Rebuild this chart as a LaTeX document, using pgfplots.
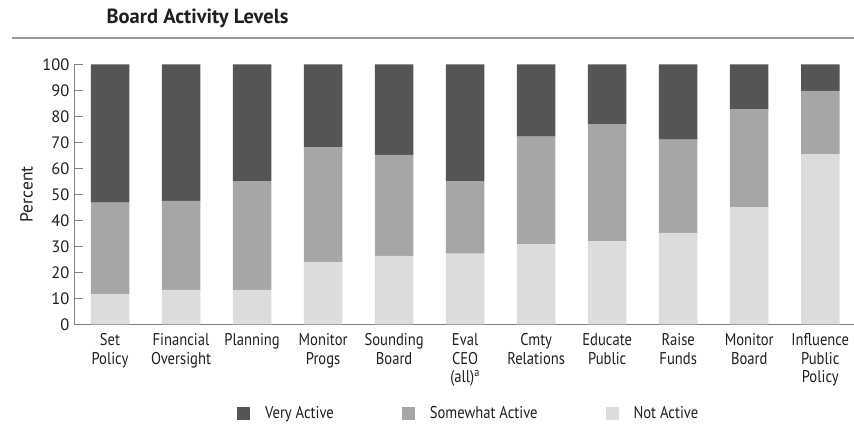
\documentclass[border=0pt]{standalone}
\usepackage{pgfplots}
\pgfplotsset{compat=1.18}
\usepackage{pgfplotstable}
\usepackage{fontspec}
\setmainfont{PT Sans}
\newfontfamily\cond{PT Sans}[FakeStretch=0.86]
\definecolor{vact}{HTML}{555555}
\definecolor{sact}{HTML}{A6A6A6}
\definecolor{nact}{HTML}{DCDCDC}
\definecolor{axgray}{HTML}{808080}
\pgfplotstableread{
x notact some very
0 11.5 35.3 53.2
1 13.2 34.3 52.5
2 13.2 41.9 44.9
3 23.8 44.3 31.9
4 26.3 38.9 34.8
5 27.2 27.9 44.9
6 30.8 41.4 27.8
7 32.0 45.0 23.0
8 35.2 35.8 29.0
9 45.0 37.8 17.2
10 65.4 24.4 10.2
}\datatable
\begin{document}
\begin{tikzpicture}
\useasboundingbox (0,0) rectangle (854pt,427pt);
\node[anchor=west,font=\fontsize{20.5}{24}\selectfont\bfseries,text=black!88] at (103pt,409pt) {Board Activity Levels};
\draw[axgray!80, line width=1.6pt] (12pt,388.7pt) -- (854pt,388.7pt);
\begin{axis}[
  at={(74pt,102.7pt)}, anchor=south west,
  scale only axis, width=780pt, height=260pt,
  xmin=-0.507, xmax=10.475, ymin=0, ymax=100,
  ybar stacked, bar width=38.5pt,
  axis x line*=bottom, axis y line*=left,
  axis line style={axgray, line width=0.9pt},
  xtick=data, major x tick style={draw=none},
  xticklabels={{Set\\Policy},{Financial\\Oversight},{Planning},{Monitor\\Progs},{Sounding\\Board},{Eval\\CEO\\(all)\textsuperscript{a}},{Cmty\\Relations},{Educate\\Public},{Raise\\Funds},{Monitor\\Board},{Influence\\Public\\Policy}},
  xticklabel style={align=center, font=\cond\fontsize{17}{18.5}\selectfont, text=black!88, yshift=-6pt},
  ytick={0,10,...,100},
  tick align=inside, major tick length=9pt,
  y tick style={axgray, line width=0.9pt},
  yticklabel style={font=\fontsize{16.5}{18}\selectfont, text=black!88, xshift=-1pt},
  /pgf/number format/assume math mode=true,
  ylabel={Percent},
  ylabel style={at={(axis description cs:-0.061,0.5)}, anchor=center, font=\fontsize{17.5}{20}\selectfont, text=black!88},
  reverse legend,
  legend columns=3,
  legend style={draw=none, fill=none, at={(0.506,-0.343)}, anchor=center,
    font=\cond\fontsize{17}{20}\selectfont, text=black!88,
    /tikz/every even column/.append style={column sep=66pt},
    /tikz/every odd column/.append style={column sep=13pt}},
  legend image code/.code={\fill[#1] (0pt,-6.5pt) rectangle (13pt,6.5pt);},
]
\addplot[fill=nact, draw=none] table[x=x,y=notact]{\datatable};
\addlegendentry{Not Active}
\addplot[fill=sact, draw=none] table[x=x,y=some]{\datatable};
\addlegendentry{Somewhat Active}
\addplot[fill=vact, draw=none] table[x=x,y=very]{\datatable};
\addlegendentry{Very Active}
\end{axis}
\end{tikzpicture}
\end{document}
